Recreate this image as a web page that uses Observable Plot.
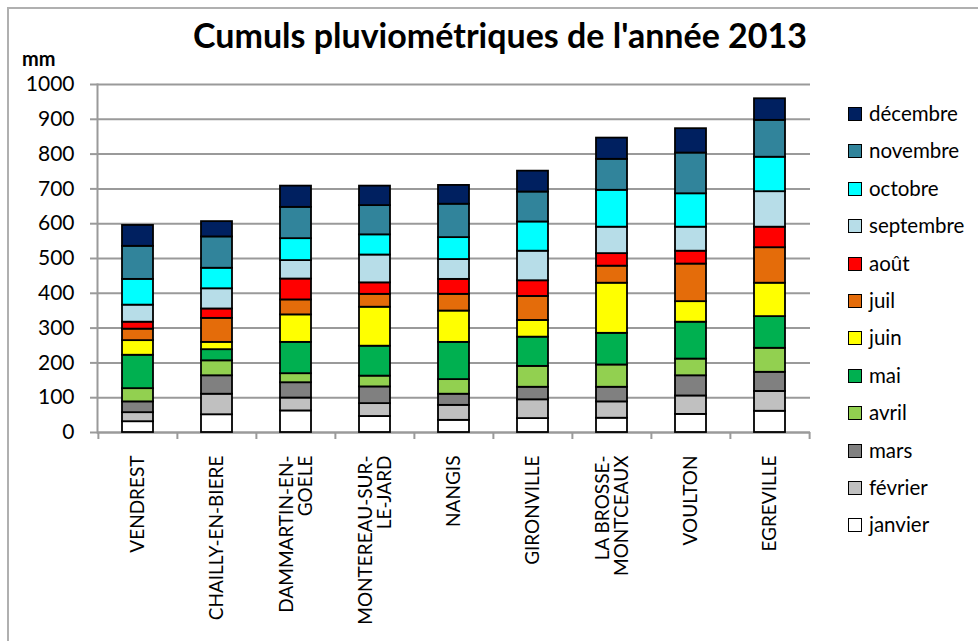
<!DOCTYPE html>
<html>
<head>
<meta charset="utf-8">
<script src="https://cdn.jsdelivr.net/npm/d3@7"></script>
<script src="https://cdn.jsdelivr.net/npm/@observablehq/plot@0.6"></script>
<style>
  html, body { margin: 0; padding: 0; background: #fff; }
  #wrap { position: relative; width: 978px; height: 641px; overflow: hidden; font-family: Lato, "Open Sans", sans-serif; }
  #frame { position: absolute; left: 7px; top: 7px; width: 990px; height: 660px; border-left: 2px solid #b0b0b0; border-top: 2px solid #b0b0b0; }
  #title { position: absolute; left: 0; width: 1000px; top: 14px; text-align: center; font-weight: bold; font-size: 34px; color: #000; }
  #unit { position: absolute; left: 22px; top: 46px; font-weight: bold; font-size: 20px; color: #000; }
  #chart { position: absolute; left: 0; top: 0; }
  #legend { position: absolute; left: 848px; top: 101px; }
  .item { height: 37.4px; display: flex; align-items: flex-start; font-size: 20.5px; line-height: 24px; }
  .sw { width: 12px; height: 12px; border: 1.5px solid #000; margin: 6px 7px 0 0; flex: none; }
</style>
</head>
<body>
<div id="wrap">
  <div id="frame"></div>
  <div id="chart"></div>
  <div id="title">Cumuls pluviométriques de l'année 2013</div>
  <div id="unit">mm</div>
  <div id="legend"></div>
</div>
<script>
const sites = ["VENDREST", "CHAILLY-EN-BIERE", "DAMMARTIN-EN-GOELE", "MONTEREAU-SUR-LE-JARD", "NANGIS", "GIRONVILLE", "LA BROSSE-MONTCEAUX", "VOULTON", "EGREVILLE"];
const siteLabels = ["VENDREST", "CHAILLY-EN-BIERE", "DAMMARTIN-EN-\nGOELE", "MONTEREAU-SUR-\nLE-JARD", "NANGIS", "GIRONVILLE", "LA BROSSE-\nMONTCEAUX", "VOULTON", "EGREVILLE"];
const months = ["janvier", "février", "mars", "avril", "mai", "juin", "juil", "août", "septembre", "octobre", "novembre", "décembre"];
const monthColors = ["#ffffff", "#c0c0c0", "#808080", "#92d050", "#00b050", "#ffff00", "#e46c0a", "#ff0000", "#b7dde8", "#00ffff", "#31849b", "#002060"];

// monthly rainfall (mm), one array per month, in site order
const janvier   = [31, 51, 62, 46, 35, 40, 41, 52, 61];
const fevrier   = [26, 59, 37, 37, 43, 54, 47, 53, 57];
const mars      = [31, 53, 44, 48, 32, 36, 42, 58, 55];
const avril     = [38, 43, 26, 31, 42, 60, 64, 48, 69];
const mai       = [96, 32, 90, 86, 107, 84, 91, 106, 91];
const juin      = [42, 21, 79, 112, 90, 48, 144, 59, 96];
const juil      = [33, 69, 43, 37, 48, 69, 49, 108, 102];
const aout      = [20, 27, 60, 33, 43, 45, 36, 37, 59];
const septembre = [49, 58, 53, 80, 57, 85, 76, 69, 102];
const octobre   = [74, 59, 63, 58, 63, 84, 106, 96, 99];
const novembre  = [95, 90, 90, 84, 96, 86, 89, 117, 106];
const decembre  = [60, 44, 61, 56, 54, 60, 61, 70, 62];

const yTicks = [0, 100, 200, 300, 400, 500, 600, 700, 800, 900, 1000];

const series = [janvier, fevrier, mars, avril, mai, juin, juil, aout, septembre, octobre, novembre, decembre];
const data = [];
months.forEach((m, mi) => sites.forEach((s, si) => data.push({site: s, month: m, value: series[mi][si]})));

const W = 978, H = 641, ML = 97, MR = 168, MT = 84, MB = 209;
const step = (W - ML - MR) / sites.length;
const labelOf = new Map(sites.map((s, i) => [s, siteLabels[i]]));
const grey = "#9a9a9a";

const chart = Plot.plot({
  width: W, height: H,
  marginLeft: ML, marginRight: MR, marginTop: MT, marginBottom: MB,
  style: {fontFamily: "Lato, 'Open Sans', sans-serif", background: "transparent", overflow: "visible"},
  x: {domain: sites, paddingInner: 0.61, paddingOuter: 0.305, label: null},
  y: {domain: [0, 1000], label: null},
  color: {domain: months, range: monthColors},
  marks: [
    Plot.gridY(yTicks, {stroke: grey, strokeOpacity: 1, strokeWidth: 2}),
    Plot.frame({anchor: "left", stroke: grey, strokeWidth: 2}),
    Plot.ruleY([0], {stroke: grey, strokeWidth: 2}),
    Plot.ruleX(sites, {x: d => d, dx: -step / 2, y1: 0, y2: 0, insetBottom: -7, stroke: grey, strokeWidth: 2}),
    Plot.ruleX(sites.slice(-1), {x: d => d, dx: step / 2, y1: 0, y2: 0, insetBottom: -7, stroke: grey, strokeWidth: 2}),
    Plot.barY(data, {x: "site", y: "value", fill: "month", stroke: "#000", strokeWidth: 1.8}),
    Plot.axisY(yTicks, {tickSize: 7, tickPadding: 16, stroke: grey, strokeWidth: 2, strokeOpacity: 1, fontSize: 21, fill: "#000", tickFormat: d => String(d), label: null}),
    Plot.axisX({tickSize: 0, tickPadding: 23, tickRotate: -90, fontSize: 19, fill: "#000", tickFormat: d => labelOf.get(d), label: null})
  ]
});
document.getElementById("chart").appendChild(chart);

const legend = document.getElementById("legend");
months.slice().reverse().forEach(m => {
  const it = document.createElement("div");
  it.className = "item";
  const sw = document.createElement("div");
  sw.className = "sw";
  sw.style.background = monthColors[months.indexOf(m)];
  const t = document.createElement("span");
  t.textContent = m;
  it.appendChild(sw); it.appendChild(t);
  legend.appendChild(it);
});
</script>
</body>
</html>
